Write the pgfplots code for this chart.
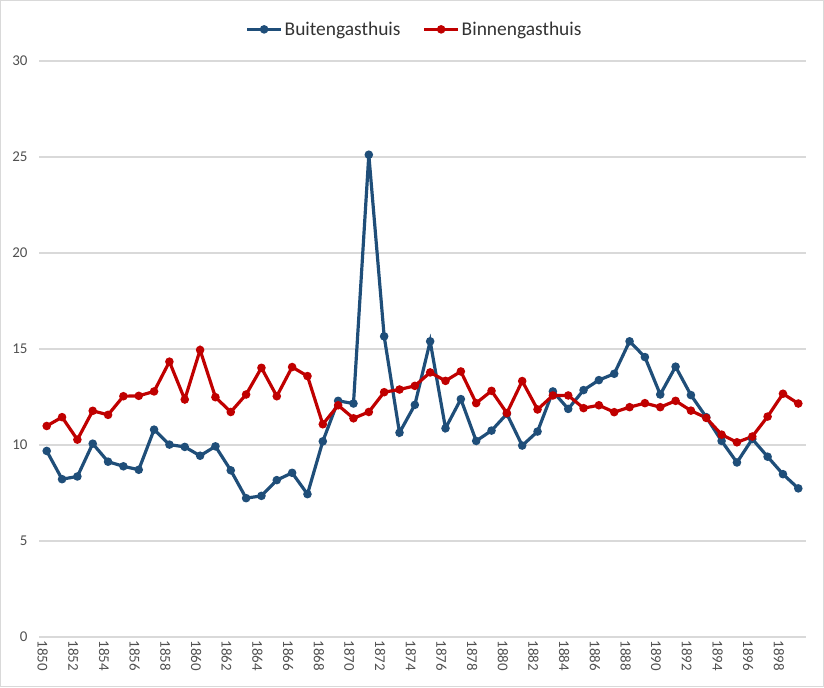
\documentclass[border=0pt]{standalone}
\usepackage{pgfplots}
\pgfplotsset{compat=1.18}
\usepackage{fontspec}
\setmainfont{Carlito}
\definecolor{cblue}{HTML}{1F4E79}
\definecolor{cred}{HTML}{C00000}
\definecolor{cgrid}{HTML}{D9D9D9}
\definecolor{ctext}{HTML}{505050}
\begin{document}
\begin{tikzpicture}
\begin{axis}[
  name=ax,
  scale only axis,
  width=767bp, height=576bp,
  xmin=1849.5, xmax=1899.5,
  ymin=0, ymax=30,
  ytick={0,5,...,30},
  xtick={1850,1852,...,1898},
  /pgf/number format/1000 sep={},
  /pgf/number format/assume math mode=true,
  axis line style={draw=none},
  major tick length=0pt,
  ymajorgrids,
  grid style={cgrid, line width=1.3pt},
  tick label style={font=\fontsize{15}{17}\selectfont, text=ctext},
  x tick label style={rotate=-90, anchor=west, yshift=-4bp},
  yticklabel style={xshift=-8bp},
  clip=false,
  legend columns=2,
  legend style={at={(0.5,1)}, anchor=south, yshift=20bp, xshift=-8bp, draw=none,
    font=\fontsize{19.5}{21}\selectfont, text=black!80,
    /tikz/every even column/.append style={column sep=20bp}},
  legend image code/.code={\draw[#1, mark repeat=2, mark phase=2] plot coordinates {(0cm,0cm) (0.6cm,0cm) (1.2cm,0cm)};},
]
\addplot[cblue, line width=3.2pt, mark=*, mark size=2.6pt, mark options={solid}] coordinates {
(1850,9.69) (1851,8.22) (1852,8.36) (1853,10.07) (1854,9.13) (1855,8.89) (1856,8.71) (1857,10.80) (1858,10.02) (1859,9.90)
(1860,9.44) (1861,9.93) (1862,8.68) (1863,7.23) (1864,7.35) (1865,8.17) (1866,8.55) (1867,7.44) (1868,10.19) (1869,12.30)
(1870,12.16) (1871,25.12) (1872,15.66) (1873,10.64) (1874,12.09) (1875,15.40) (1876,10.87) (1877,12.39) (1878,10.21) (1879,10.75)
(1880,11.62) (1881,9.97) (1882,10.70) (1883,12.79) (1884,11.88) (1885,12.86) (1886,13.38) (1887,13.71) (1888,15.40) (1889,14.58)
(1890,12.63) (1891,14.08) (1892,12.60) (1893,11.45) (1894,10.21) (1895,9.09) (1896,10.31) (1897,9.39) (1898,8.48) (1899,7.74)
};
\addlegendentry{Buitengasthuis}
\addplot[cred, line width=3.2pt, mark=*, mark size=2.6pt, mark options={solid}] coordinates {
(1850,10.99) (1851,11.45) (1852,10.28) (1853,11.78) (1854,11.57) (1855,12.54) (1856,12.56) (1857,12.79) (1858,14.34) (1859,12.37)
(1860,14.95) (1861,12.49) (1862,11.72) (1863,12.63) (1864,14.02) (1865,12.54) (1866,14.06) (1867,13.59) (1868,11.08) (1869,12.07)
(1870,11.39) (1871,11.72) (1872,12.75) (1873,12.89) (1874,13.08) (1875,13.78) (1876,13.34) (1877,13.83) (1878,12.18) (1879,12.82)
(1880,11.66) (1881,13.33) (1882,11.85) (1883,12.58) (1884,12.58) (1885,11.92) (1886,12.07) (1887,11.71) (1888,11.97) (1889,12.18)
(1890,11.97) (1891,12.30) (1892,11.79) (1893,11.41) (1894,10.54) (1895,10.14) (1896,10.44) (1897,11.48) (1898,12.67) (1899,12.16)
};
\addlegendentry{Binnengasthuis}
\end{axis}
\draw[cgrid, line width=1.3pt] ([xshift=-38.4bp,yshift=-49.4bp]ax.south west) rectangle ([xshift=17.4bp,yshift=60.4bp]ax.north east);
\end{tikzpicture}
\end{document}
